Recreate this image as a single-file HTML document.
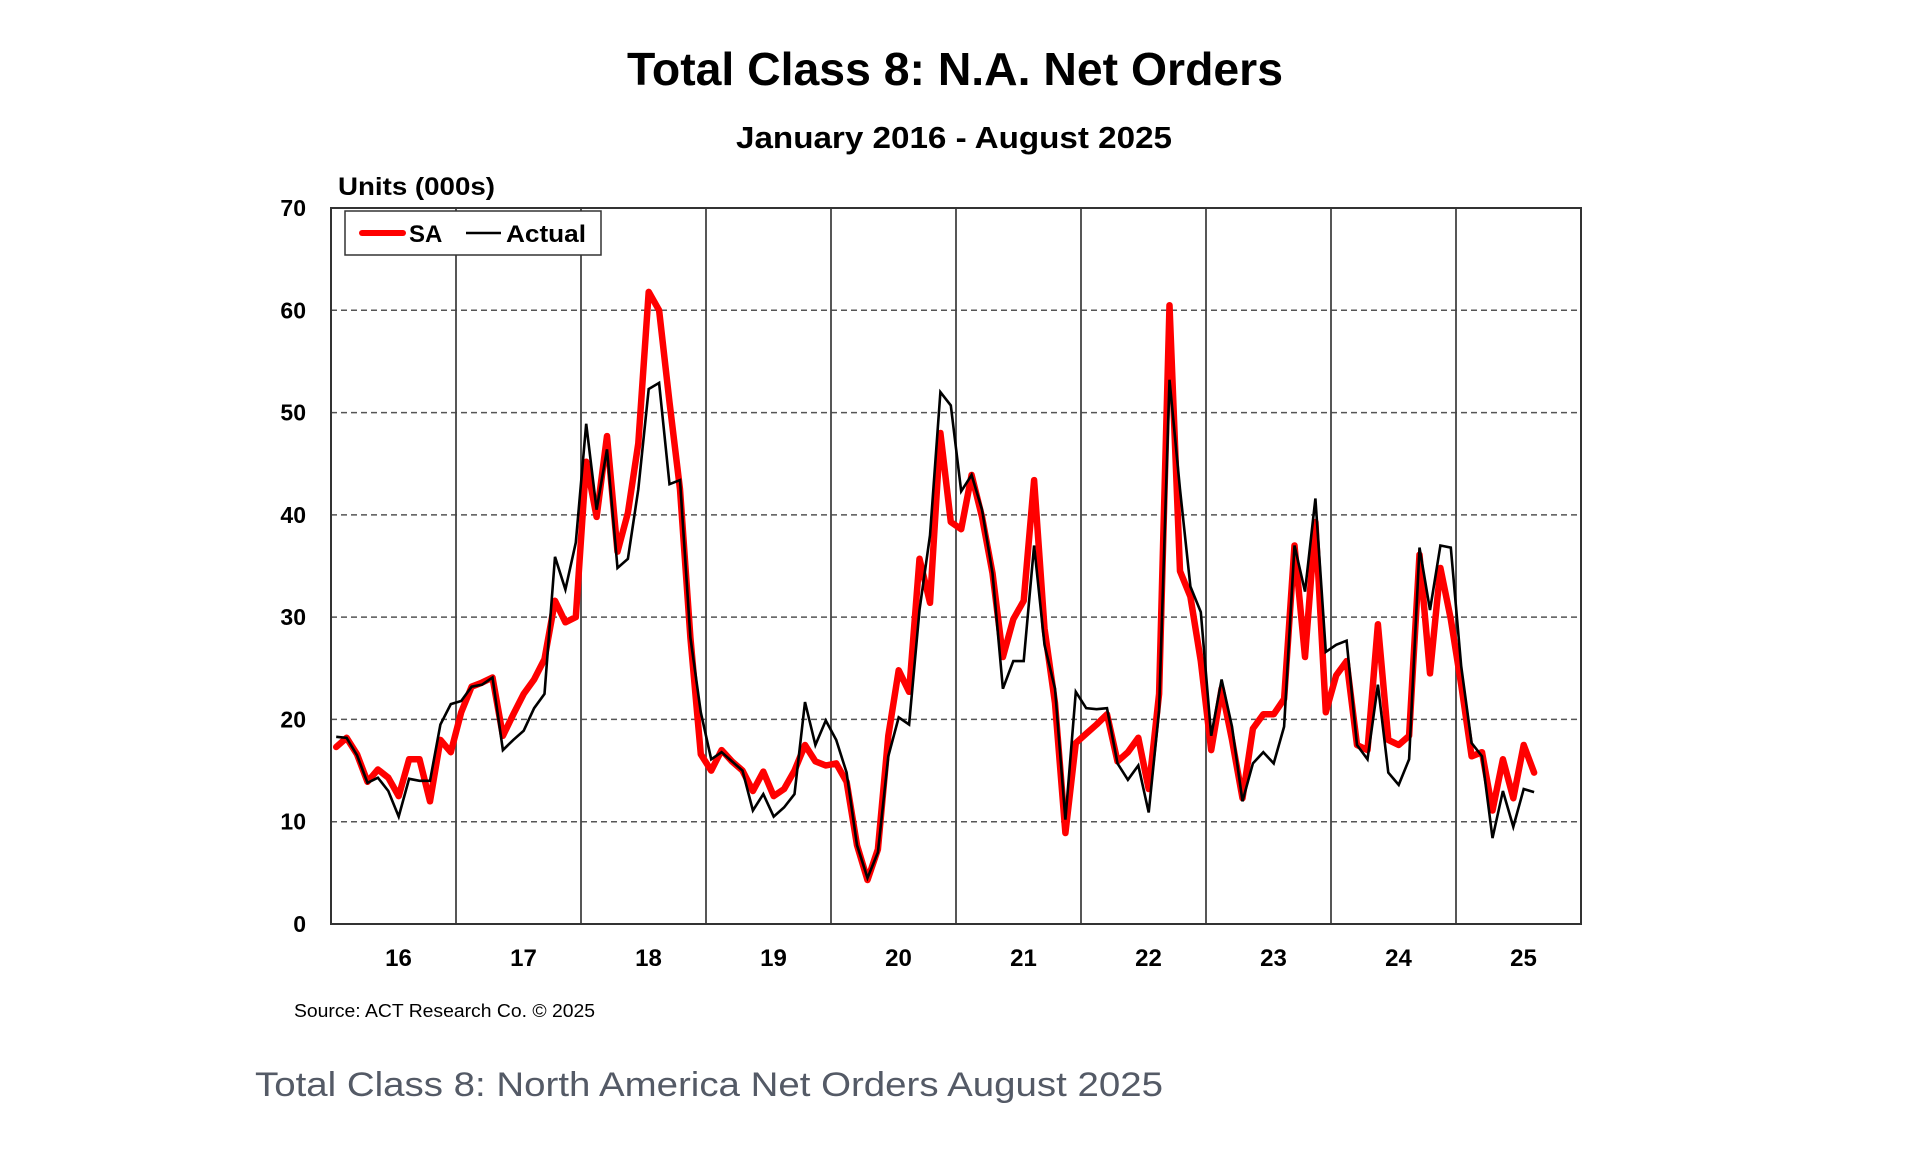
<!DOCTYPE html>
<html><head><meta charset="utf-8"><style>
html,body{margin:0;padding:0;background:#fff;}
svg{display:block;font-family:"Liberation Sans",Arial,sans-serif;}
</style></head><body>
<svg id="chart" width="1920" height="1170" viewBox="0 0 1920 1170" xmlns="http://www.w3.org/2000/svg">
<text x="955" y="85" text-anchor="middle" font-size="46" font-weight="bold" textLength="656" lengthAdjust="spacingAndGlyphs">Total Class 8: N.A. Net Orders</text>
<text x="954" y="148" text-anchor="middle" font-size="31" font-weight="bold" textLength="436" lengthAdjust="spacingAndGlyphs">January 2016 - August 2025</text>
<text x="338" y="195" font-size="25" font-weight="bold" textLength="157" lengthAdjust="spacingAndGlyphs">Units (000s)</text>
<g id="grid"></g>
<g id="yticks"></g>
<g id="xticks"></g>
<g id="series"></g>
<rect x="331" y="208" width="1250" height="716" fill="none" stroke="#333" stroke-width="2"/>
<g>
<rect x="345" y="211" width="256" height="44" fill="#fff" stroke="#333" stroke-width="1.5"/>
<line x1="362" y1="233" x2="403" y2="233" stroke="#ff0000" stroke-width="6" stroke-linecap="round"/>
<text x="409" y="242" font-size="24" font-weight="bold">SA</text>
<line x1="466" y1="233" x2="501" y2="233" stroke="#000" stroke-width="2.5"/>
<text x="506" y="242" font-size="24" font-weight="bold" textLength="80" lengthAdjust="spacingAndGlyphs">Actual</text>
</g>
<text x="294" y="1017" font-size="18" textLength="301" lengthAdjust="spacingAndGlyphs">Source: ACT Research Co. © 2025</text>
<text x="255" y="1096" font-size="34" fill="#545a66" textLength="908" lengthAdjust="spacingAndGlyphs">Total Class 8: North America Net Orders August 2025</text>
</svg>
<script>
const years = ["16","17","18","19","20","21","22","23","24","25"];
const yTicks = [0,10,20,30,40,50,60,70];
const saValues = [17.3,18.2,16.6,13.9,15.1,14.3,12.5,16.1,16.1,12,18,16.8,
20.7,23.2,23.6,24.1,18.4,20.5,22.5,23.9,25.9,31.6,29.5,30,
45.2,39.8,47.7,36.4,40.2,47,61.8,60,51,42.5,28,16.6,
15,17,15.9,15,13,14.9,12.5,13.2,15,17.5,15.9,15.5,
15.7,13.9,7.7,4.3,7.3,18.4,24.8,22.7,35.7,31.4,48,39.3,
38.6,43.9,39.8,34.3,26.1,29.8,31.6,43.4,28.9,21.6,8.9,17.7,
18.6,19.5,20.5,15.9,16.8,18.2,13.2,22.5,60.5,34.5,32,25.7,
17,23,18,12.3,19.1,20.5,20.5,22,37,26.1,39.3,20.7,
24.3,25.7,17.5,17,29.3,18,17.5,18.4,36.1,24.5,34.8,29.8,
23.4,16.4,16.8,11.1,16.1,12.3,17.5,14.8];
const actualValues = [18.3,18.2,16.5,13.8,14.3,13,10.5,14.2,14,14,19.5,21.5,
21.8,23.2,23.4,24.1,17,18,18.9,21.1,22.5,35.9,32.7,37.3,
48.9,40.5,46.4,34.8,35.7,42.5,52.3,52.9,43,43.4,28,20.7,
16.1,16.8,15.9,15,11.1,12.7,10.5,11.4,12.7,21.7,17.5,19.9,
18,14.8,7.7,4.5,7,16.4,20.2,19.5,30.7,38,52,50.7,
42.3,43.9,40.5,34.3,23,25.7,25.7,37,27.3,23,10.2,22.7,
21.1,21,21.1,15.7,14.1,15.5,10.9,20.9,53.2,42.5,33,30.5,
18.4,23.9,19.3,12,15.7,16.8,15.7,19.3,37,32.5,41.6,26.6,
27.3,27.7,17.5,16.1,23.4,14.8,13.6,16.1,36.8,30.7,37,36.8,
25.2,17.7,16.4,8.4,13,9.5,13.2,12.9];

const NS="http://www.w3.org/2000/svg";
const L=331,R=1581,T=208,B=924,YMAX=70;
const mw=(R-L)/120;
function xScale(i){return L+(i+0.5)*mw;}
function yScale(v){return B-(v/YMAX)*(B-T);}
function mk(tag,attrs,parent){const e=document.createElementNS(NS,tag);for(const k in attrs)e.setAttribute(k,attrs[k]);parent.appendChild(e);return e;}
const grid=document.getElementById('grid'),yt=document.getElementById('yticks'),xt=document.getElementById('xticks'),ser=document.getElementById('series');
yTicks.forEach(v=>{
  if(v>0&&v<YMAX){
    const g=mk('line',{x1:L,x2:R,y1:yScale(v),y2:yScale(v),stroke:'#555','stroke-width':1.5,'stroke-dasharray':'6,4'},grid);
    
    
  }
  const t=mk('text',{x:306,y:yScale(v)+8,'text-anchor':'end','font-size':23,'font-weight':'bold'},yt);
  t.textContent=v;
  
  
});
years.forEach((y,k)=>{
  if(k>0){
    const x=L+k*12*mw;
    const g=mk('line',{x1:x,x2:x,y1:T,y2:B,stroke:'#444','stroke-width':1.8},grid);
    
    
  }
  const t=mk('text',{x:L+(k*12+6)*mw+5,y:966,'text-anchor':'middle','font-size':24,'font-weight':'bold'},xt);
  t.textContent=y;
  
  
});
function pts(arr){return arr.map((v,i)=>xScale(i).toFixed(1)+','+yScale(v).toFixed(1)).join(' ');}
const sa=mk('polyline',{points:pts(saValues),fill:'none',stroke:'#ff0000','stroke-width':6.5,'stroke-linejoin':'round','stroke-linecap':'round'},ser);


const ac=mk('polyline',{points:pts(actualValues),fill:'none',stroke:'#000','stroke-width':2.6,'stroke-linejoin':'miter'},ser);


</script>
</body></html>
